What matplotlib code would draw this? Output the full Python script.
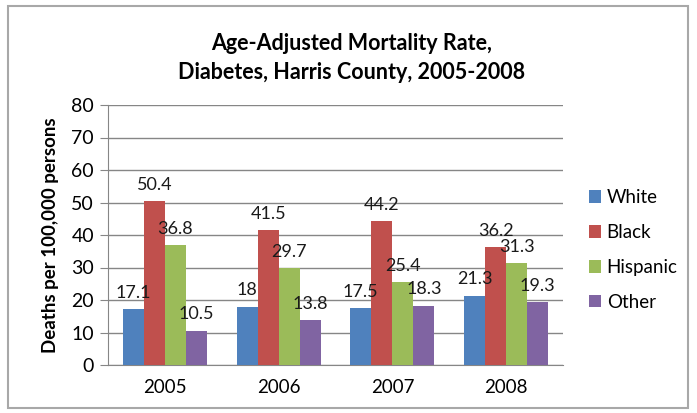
import matplotlib.pyplot as plt
import numpy as np
from matplotlib.patches import Rectangle

# Data
years = ['2005', '2006', '2007', '2008']
groups = ['White', 'Black', 'Hispanic', 'Other']
white = [17.1, 18, 17.5, 21.3]
black = [50.4, 41.5, 44.2, 36.2]
hispanic = [36.8, 29.7, 25.4, 31.3]
other = [10.5, 13.8, 18.3, 19.3]
series = [white, black, hispanic, other]
colors = ['#4F81BD', '#C0504D', '#9BBB59', '#8064A2']

plt.rcParams['font.family'] = ['Lato', 'DejaVu Sans']

fig = plt.figure(figsize=(6.97, 4.13), dpi=100)
ax = fig.add_axes([108 / 697, 48 / 413, 455 / 697, 260 / 413])

x = np.arange(len(years))
w = 0.185
for i, (vals, name, col) in enumerate(zip(series, groups, colors)):
    pos = x + (i - 1.5) * w
    ax.bar(pos, vals, width=w, color=col, label=name, zorder=3)
    for p, v in zip(pos, vals):
        ax.text(p, v + 2.6, f'{v:g}', ha='center', va='bottom',
                fontsize=13, color='#1a1a1a', zorder=5)

ax.set_xlim(-0.5, 3.5)
ax.set_ylim(0, 80)
ax.set_yticks(range(0, 81, 10))
ax.set_xticks(x)
ax.set_xticklabels(years)
ax.tick_params(axis='y', length=6, color='#868686', labelsize=14, pad=4)
ax.tick_params(axis='x', length=0, labelsize=13.5, pad=10)
ax.yaxis.grid(True, color='#868686', linewidth=1, zorder=0)
for s in ['top', 'right']:
    ax.spines[s].set_visible(False)
ax.spines['left'].set_color('#868686')
ax.spines['bottom'].set_color('#868686')
ax.set_ylabel('Deaths per 100,000 persons', fontsize=13.5, fontweight='bold', labelpad=9)

fig.text(352 / 697, 1 - 58 / 413, 'Age-Adjusted Mortality Rate,\nDiabetes, Harris County, 2005-2008',
         ha='center', va='center', fontsize=15.5, fontweight='bold', linespacing=1.45)

ax.legend(loc='center left', bbox_to_anchor=(572 / 697, 1 - 250 / 413),
          bbox_transform=fig.transFigure, frameon=False, fontsize=13.5,
          handlelength=0.65, handleheight=0.65, handletextpad=0.3, labelspacing=0.95)

fig.patches.append(Rectangle((8 / 697, 5 / 413), 680 / 697, 402 / 413,
                             transform=fig.transFigure, fill=False,
                             edgecolor='#a8a8a8', linewidth=1.5))

fig.savefig('out.png', dpi=100)
